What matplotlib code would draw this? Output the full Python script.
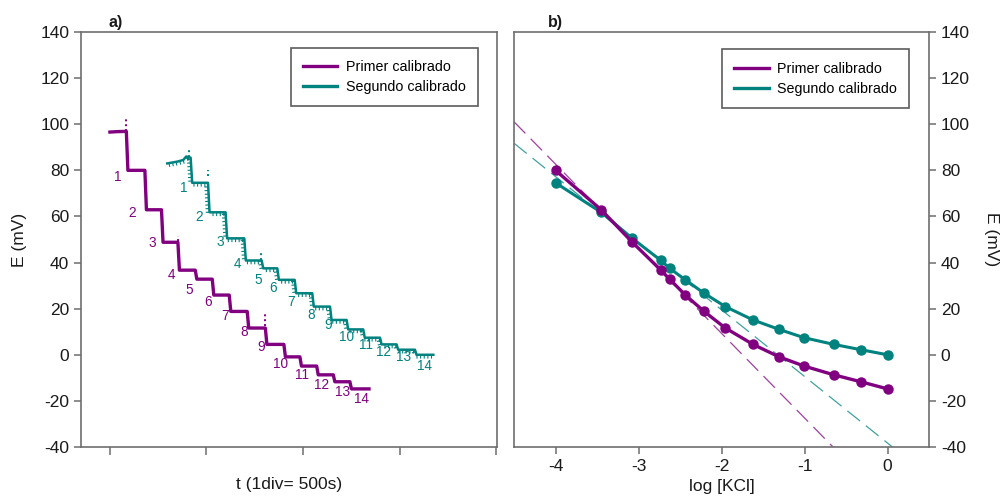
import matplotlib
matplotlib.use("Agg")
import matplotlib.pyplot as plt
import matplotlib.patheffects as pe

plt.rcParams['font.family'] = ['Liberation Sans', 'DejaVu Sans']
plt.rcParams['axes.unicode_minus'] = False

# ---- data ----
step_labels = list(range(1, 15))
log_kcl = [-4.0, -3.45, -3.075, -2.73, -2.625, -2.436, -2.21, -1.954,
           -1.62, -1.306, -1.005, -0.647, -0.322, 0.0]
E_primer = [80.0, 62.9, 48.8, 36.7, 32.8, 25.9, 18.8, 11.6,
            4.5, -0.9, -4.9, -8.7, -11.7, -14.8]
E_segundo = [74.6, 61.8, 50.5, 40.9, 37.5, 32.5, 26.7, 20.9,
             15.1, 11.0, 7.4, 4.5, 2.2, 0.0]

# time of each KCl addition (s) and end of record
t_add_primer = [85, 181, 267, 352, 442, 530, 618, 711, 805, 901, 984, 1071, 1157, 1243]
t_end_primer = 1342
t_add_segundo = [418, 508, 599, 696, 786, 867, 957, 1048, 1140, 1226, 1312, 1399, 1485, 1580]
t_end_segundo = 1675

# baseline before the first addition
base_t_primer = [0, 40, 85]
base_E_primer = [96.6, 96.8, 96.9]
base_t_segundo = [297, 350, 380, 395, 418]
base_E_segundo = [83.0, 83.8, 84.5, 86.0, 85.5]

# short transients (t, E_low, E_high)
spikes_primer = [(84, 97.0, 103.0), (351, 49.5, 51.5), (804, 12.5, 18.5)]
spikes_segundo = [(410, 86.0, 89.0), (506, 77.5, 80.0), (783, 41.0, 45.0)]

# fitted Nernstian lines: E = a + b*log[KCl]
fit_primer = (-64.1, -36.7)
fit_segundo = (-38.3, -28.9)

# ---- style ----
c1 = '#800080'
c2 = '#00827f'
spine_c = '#6e6e6e'
txt_c = '#1a1a1a'
fs = 12.5

# label anchor points for the step numbers (t, E)
lbl_pos_primer = [(38, 77.2), (115, 61.3), (218, 48.6), (321, 34.6), (409, 28.0),
                  (506, 23.0), (597, 16.8), (698, 9.9), (786, 3.2), (881, -4.1),
                  (993, -8.7), (1097, -13.3), (1206, -16.3), (1304, -19.0)]
lbl_pos_segundo = [(382, 72.5), (463, 59.9), (570, 49.0), (663, 39.4), (768, 32.4),
                   (846, 28.8), (936, 23.0), (1040, 17.3), (1131, 12.9), (1226, 7.6),
                   (1325, 4.2), (1416, 1.1), (1520, -1.1), (1628, -4.9)]


def staircase(base_t, base_E, t_add, levels, t_end, drop=8):
    ts = list(base_t)
    Es = list(base_E)
    prev = Es[-1]
    for ti, Ei in zip(t_add, levels):
        ts += [ti, ti + drop]
        Es += [prev, Ei]
        prev = Ei
    ts.append(t_end)
    Es.append(prev)
    return ts, Es


W, H = 1001, 497
fig = plt.figure(figsize=(W / 100, H / 100), dpi=100)
axA = fig.add_axes([0.0809, 0.1006, 0.4156, 0.835])
axB = fig.add_axes([0.5135, 0.1006, 0.4146, 0.835])

for ax in (axA, axB):
    for s in ax.spines.values():
        s.set_color(spine_c)
        s.set_linewidth(1.2)
    ax.tick_params(colors=spine_c, labelcolor=txt_c, labelsize=fs,
                   direction='out', length=5, width=1.1)
    ax.set_ylim(-40, 140)
    ax.set_yticks(range(-40, 141, 20))

# ---- panel a ----
tp, Ep = staircase(base_t_primer, base_E_primer, t_add_primer, E_primer, t_end_primer)
ts_, Es_ = staircase(base_t_segundo, base_E_segundo, t_add_segundo, E_segundo, t_end_segundo)

axA.plot(tp, Ep, color=c1, lw=2.4, solid_joinstyle='round',
         label='Primer calibrado')
axA.plot(ts_, Es_, color=c2, lw=1.8, solid_joinstyle='round',
         path_effects=[pe.Normal(),
                       pe.TickedStroke(spacing=2.6, angle=-90, length=0.9, linewidth=0.8)],
         label='Segundo calibrado')

for (t, lo, hi) in spikes_primer:
    axA.vlines(t, lo, hi, colors=c1, linestyles=(0, (1, 1.5)), lw=1.4)
for (t, lo, hi) in spikes_segundo:
    axA.vlines(t, lo, hi, colors=c2, linestyles=(0, (1, 1.5)), lw=1.4)

for n, (x, y) in zip(step_labels, lbl_pos_primer):
    axA.text(x, y, str(n), color=c1, fontsize=9.8, ha='center', va='center')
for n, (x, y) in zip(step_labels, lbl_pos_segundo):
    axA.text(x, y, str(n), color=c2, fontsize=9.8, ha='center', va='center')

axA.set_xlim(-150, 2005)
axA.set_xticks([0, 500, 1000, 1500, 2000])
axA.set_xticklabels([])
axA.tick_params(axis='x', length=6)
axA.set_xlabel('t (1div= 500s)', fontsize=fs, color=txt_c)
axA.xaxis.set_label_coords(0.5, -0.072)
axA.set_ylabel('E (mV)', fontsize=fs, color=txt_c)
axA.yaxis.set_label_coords(-0.13, 0.5)

leg_kw = dict(loc='upper right', fontsize=10.3, frameon=True, fancybox=False,
              borderpad=0.85, handlelength=2.4, labelspacing=0.42,
              handletextpad=0.6, borderaxespad=0)

legA = axA.legend(bbox_to_anchor=(0.9545, 0.962), **leg_kw)
legA.get_frame().set_edgecolor('#333333')
legA.get_frame().set_linewidth(1.2)
for h in legA.get_lines():
    h.set_path_effects([])
    h.set_linewidth(2.4)

fig.text(116 / W, 1 - 22 / H, 'a)', fontsize=11.5, fontweight='bold',
         ha='center', va='center', color=txt_c)

# ---- panel b ----
xs = [-4.5, 0.6]
axB.plot(xs, [fit_primer[0] + fit_primer[1] * x for x in xs], color=c1, lw=0.9,
         dashes=(13, 6), alpha=0.75, zorder=1)
axB.plot(xs, [fit_segundo[0] + fit_segundo[1] * x for x in xs], color=c2, lw=0.9,
         dashes=(13, 6), alpha=0.75, zorder=1)
axB.plot(log_kcl, E_primer, color=c1, lw=2.4, marker='o', ms=6.5, zorder=3,
         label='Primer calibrado')
axB.plot(log_kcl, E_segundo, color=c2, lw=2.2, marker='o', ms=6.5, zorder=2,
         label='Segundo calibrado')

axB.set_xlim(-4.5, 0.5)
axB.set_xticks([-4, -3, -2, -1, 0])
axB.yaxis.tick_right()
axB.yaxis.set_label_position('right')
axB.tick_params(axis='y', left=False, right=True)
axB.set_xlabel('log [KCl]', fontsize=fs, color=txt_c)
axB.xaxis.set_label_coords(0.5, -0.078)
axB.set_ylabel('E (mV)', fontsize=fs, color=txt_c, rotation=270, va='center')
axB.yaxis.set_label_coords(1.15, 0.5)

legB = axB.legend(bbox_to_anchor=(0.9525, 0.958), **leg_kw)
legB.get_frame().set_edgecolor('#333333')
legB.get_frame().set_linewidth(1.2)
for h in legB.get_lines():
    h.set_marker('')
    h.set_linewidth(2.4)

fig.text(555 / W, 1 - 22 / H, 'b)', fontsize=11.5, fontweight='bold',
         ha='center', va='center', color=txt_c)

fig.savefig('out.png', dpi=100)
